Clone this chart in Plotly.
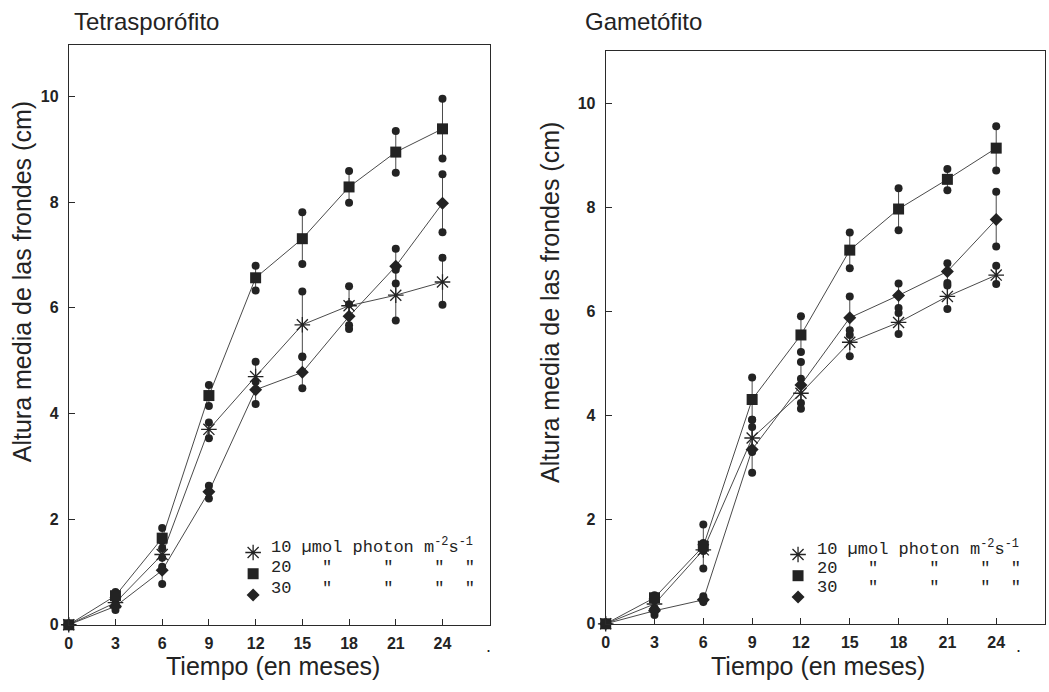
import plotly.graph_objects as go

W, H = 1049, 692

months = [0, 3, 6, 9, 12, 15, 18, 21, 24]

# Tetrasporófito
t10_mean = [0, 0.42, 1.33, 3.70, 4.70, 5.68, 6.04, 6.24, 6.49]
t10_hi = [0, 0.48, 1.45, 3.83, 4.98, 6.31, 6.41, 6.72, 6.95]
t10_lo = [0, 0.36, 1.27, 3.53, 4.45, 5.07, 5.67, 5.76, 6.06]
t20_mean = [0, 0.55, 1.64, 4.34, 6.57, 7.31, 8.29, 8.95, 9.39]
t20_hi = [0, 0.62, 1.83, 4.54, 6.80, 7.81, 8.59, 9.35, 9.96]
t20_lo = [0, 0.48, 1.58, 4.14, 6.33, 6.83, 7.99, 8.56, 8.83]
t30_mean = [0, 0.35, 1.03, 2.52, 4.45, 4.78, 5.84, 6.79, 7.98]
t30_hi = [0, 0.40, 1.10, 2.63, 4.60, 5.08, 6.07, 7.12, 8.53]
t30_lo = [0, 0.28, 0.77, 2.39, 4.18, 4.48, 5.60, 6.46, 7.43]

# Gametófito
g10_mean = [0, 0.38, 1.42, 3.57, 4.43, 5.41, 5.79, 6.29, 6.70]
g10_hi = [0, 0.45, 1.55, 3.92, 4.71, 5.55, 5.97, 6.50, 6.88]
g10_lo = [0, 0.30, 1.06, 3.30, 4.24, 5.14, 5.57, 6.05, 6.53]
g20_mean = [0, 0.50, 1.49, 4.31, 5.55, 7.18, 7.97, 8.54, 9.14]
g20_hi = [0, 0.55, 1.91, 4.73, 5.91, 7.52, 8.37, 8.74, 9.56]
g20_lo = [0, 0.45, 1.40, 3.92, 5.22, 6.83, 7.56, 8.33, 8.71]
g30_mean = [0, 0.25, 0.46, 3.35, 4.59, 5.88, 6.31, 6.77, 7.77]
g30_hi = [0, 0.30, 0.53, 3.78, 5.03, 6.29, 6.54, 6.93, 8.30]
g30_lo = [0, 0.17, 0.42, 2.90, 4.13, 5.64, 6.07, 6.55, 7.25]

NBSP = "\u00a0"
legend_texts = [
    "10" + NBSP + "µmol" + NBSP + "photon" + NBSP + "m<sup>-2</sup>s<sup>-1</sup>",
    "20" + NBSP * 3 + '"' + NBSP * 5 + '"' + NBSP * 4 + '"' + NBSP * 2 + '"',
    "30" + NBSP * 3 + '"' + NBSP * 5 + '"' + NBSP * 4 + '"' + NBSP * 2 + '"',
]

INK = "#232323"
LINE = "#4a4a4a"

fig = go.Figure()


def add_panel(xa, ya, legend, series):
    for (mean, hi, lo, symbol, size) in series:
        fig.add_trace(go.Scatter(
            x=months, y=mean, mode="lines", xaxis=xa, yaxis=ya,
            line=dict(color=LINE, width=1), showlegend=False, hoverinfo="skip",
            error_y=dict(type="data", symmetric=False,
                         array=[h - m for h, m in zip(hi, mean)],
                         arrayminus=[m - l for m, l in zip(mean, lo)],
                         color=LINE, thickness=1, width=0),
            cliponaxis=False,
        ))
    for (mean, hi, lo, symbol, size) in series:
        cx, cy = [], []
        for x, m, h, l in zip(months, mean, hi, lo):
            if h != m or l != m:
                cx += [x, x]
                cy += [h, l]
        fig.add_trace(go.Scatter(
            x=cx, y=cy, mode="markers", xaxis=xa, yaxis=ya,
            marker=dict(symbol="circle", size=8, color=INK),
            showlegend=False, hoverinfo="skip", cliponaxis=False,
        ))
    for (mean, hi, lo, symbol, size) in series:
        mk = dict(symbol=symbol, size=size, color=INK)
        if symbol.endswith("open"):
            mk["line"] = dict(color=INK, width=1.3)
        fig.add_trace(go.Scatter(
            x=months, y=mean, mode="markers", xaxis=xa, yaxis=ya,
            marker=mk, name=NBSP, legend=legend, cliponaxis=False,
        ))


add_panel("x", "y", "legend", [
    (t10_mean, t10_hi, t10_lo, "asterisk-open", 13),
    (t20_mean, t20_hi, t20_lo, "square", 11),
    (t30_mean, t30_hi, t30_lo, "diamond", 10),
])
add_panel("x2", "y2", "legend2", [
    (g10_mean, g10_hi, g10_lo, "asterisk-open", 13),
    (g20_mean, g20_hi, g20_lo, "square", 11),
    (g30_mean, g30_hi, g30_lo, "diamond", 10),
])


def px(x):
    return x / W


def py(y):
    return 1 - y / H


tickfont = dict(family="Liberation Sans, Arial", size=16, color=INK, weight="bold")
axis_common = dict(showline=True, mirror=True, linecolor="#2a2a2a", linewidth=1,
                   showgrid=False, zeroline=False, ticks="inside", ticklen=6,
                   tickcolor="#2a2a2a", tickfont=tickfont)

leg_common = dict(xanchor="left", yanchor="top", bgcolor="rgba(0,0,0,0)", borderwidth=0,
                  tracegroupgap=0, font=dict(family="Liberation Mono", size=14, color=INK),
                  itemclick=False, itemdoubleclick=False)

fig.update_layout(
    width=W, height=H,
    margin=dict(l=0, r=0, t=0, b=0),
    paper_bgcolor="white", plot_bgcolor="white",
    xaxis=dict(domain=[px(65), px(488)], range=[0, 27.06], tickvals=months,
               anchor="y", ticklabelstandoff=4, **axis_common),
    yaxis=dict(domain=[py(633), py(46)], range=[0, 10.97], tickvals=[0, 2, 4, 6, 8, 10],
               anchor="x", ticklabelstandoff=6, **axis_common),
    xaxis2=dict(domain=[px(604), px(1045)], range=[0, 27.0], tickvals=months,
                anchor="y2", ticklabelstandoff=4, **axis_common),
    yaxis2=dict(domain=[py(632), py(52)], range=[0, 11.0], tickvals=[0, 2, 4, 6, 8, 10],
                anchor="x2", ticklabelstandoff=6, **axis_common),
    legend=dict(x=px(230), y=py(544), **leg_common),
    legend2=dict(x=px(777), y=py(546), **leg_common),
)

title_font = dict(family="Liberation Sans, Arial", size=24, color=INK)
axis_title_font = dict(family="Liberation Sans, Arial", size=25, color=INK)
leg_font = dict(family="Liberation Mono, Courier New, monospace", size=17, color=INK)

ann = [
    dict(text="Tetrasporófito", x=px(68), y=py(22), xanchor="left", yanchor="middle",
         font=title_font),
    dict(text="Gametófito", x=px(581), y=py(22), xanchor="left", yanchor="middle",
         font=title_font),
    dict(text="Altura media de las frondes (cm)", x=px(18), y=py(285), textangle=-90,
         xanchor="center", yanchor="middle", font=axis_title_font),
    dict(text="Altura media de las frondes (cm)", x=px(548), y=py(306), textangle=-90,
         xanchor="center", yanchor="middle", font=axis_title_font),
    dict(text="Tiempo (en meses)", x=px(270), y=py(675), xanchor="center", yanchor="middle",
         font=axis_title_font),
    dict(text="Tiempo (en meses)", x=px(817), y=py(675), xanchor="center", yanchor="middle",
         font=axis_title_font),
    dict(text=".", x=px(486), y=py(655), xanchor="center", yanchor="middle",
         font=dict(family="Liberation Sans", size=18, color=INK)),
    dict(text=".", x=px(1018), y=py(655), xanchor="center", yanchor="middle",
         font=dict(family="Liberation Sans", size=18, color=INK)),
]
left_rows = [553, 575, 596]
right_rows = [555, 576, 595]
for txt, yl, yr in zip(legend_texts, left_rows, right_rows):
    ann.append(dict(text=txt, x=px(266), y=py(yl), xanchor="left", yanchor="middle", font=leg_font))
    ann.append(dict(text=txt, x=px(814), y=py(yr), xanchor="left", yanchor="middle", font=leg_font))
for a in ann:
    a.update(xref="paper", yref="paper", showarrow=False)
fig.update_layout(annotations=ann)

fig.write_html(
    "out.html",
    config={"displayModeBar": False, "responsive": False},
    post_script=(
        "document.documentElement.style.margin='0';"
        "document.documentElement.style.overflow='hidden';"
        "document.body.style.margin='0';document.body.style.padding='0';"
        "document.body.style.overflow='hidden';"
    ),
)
